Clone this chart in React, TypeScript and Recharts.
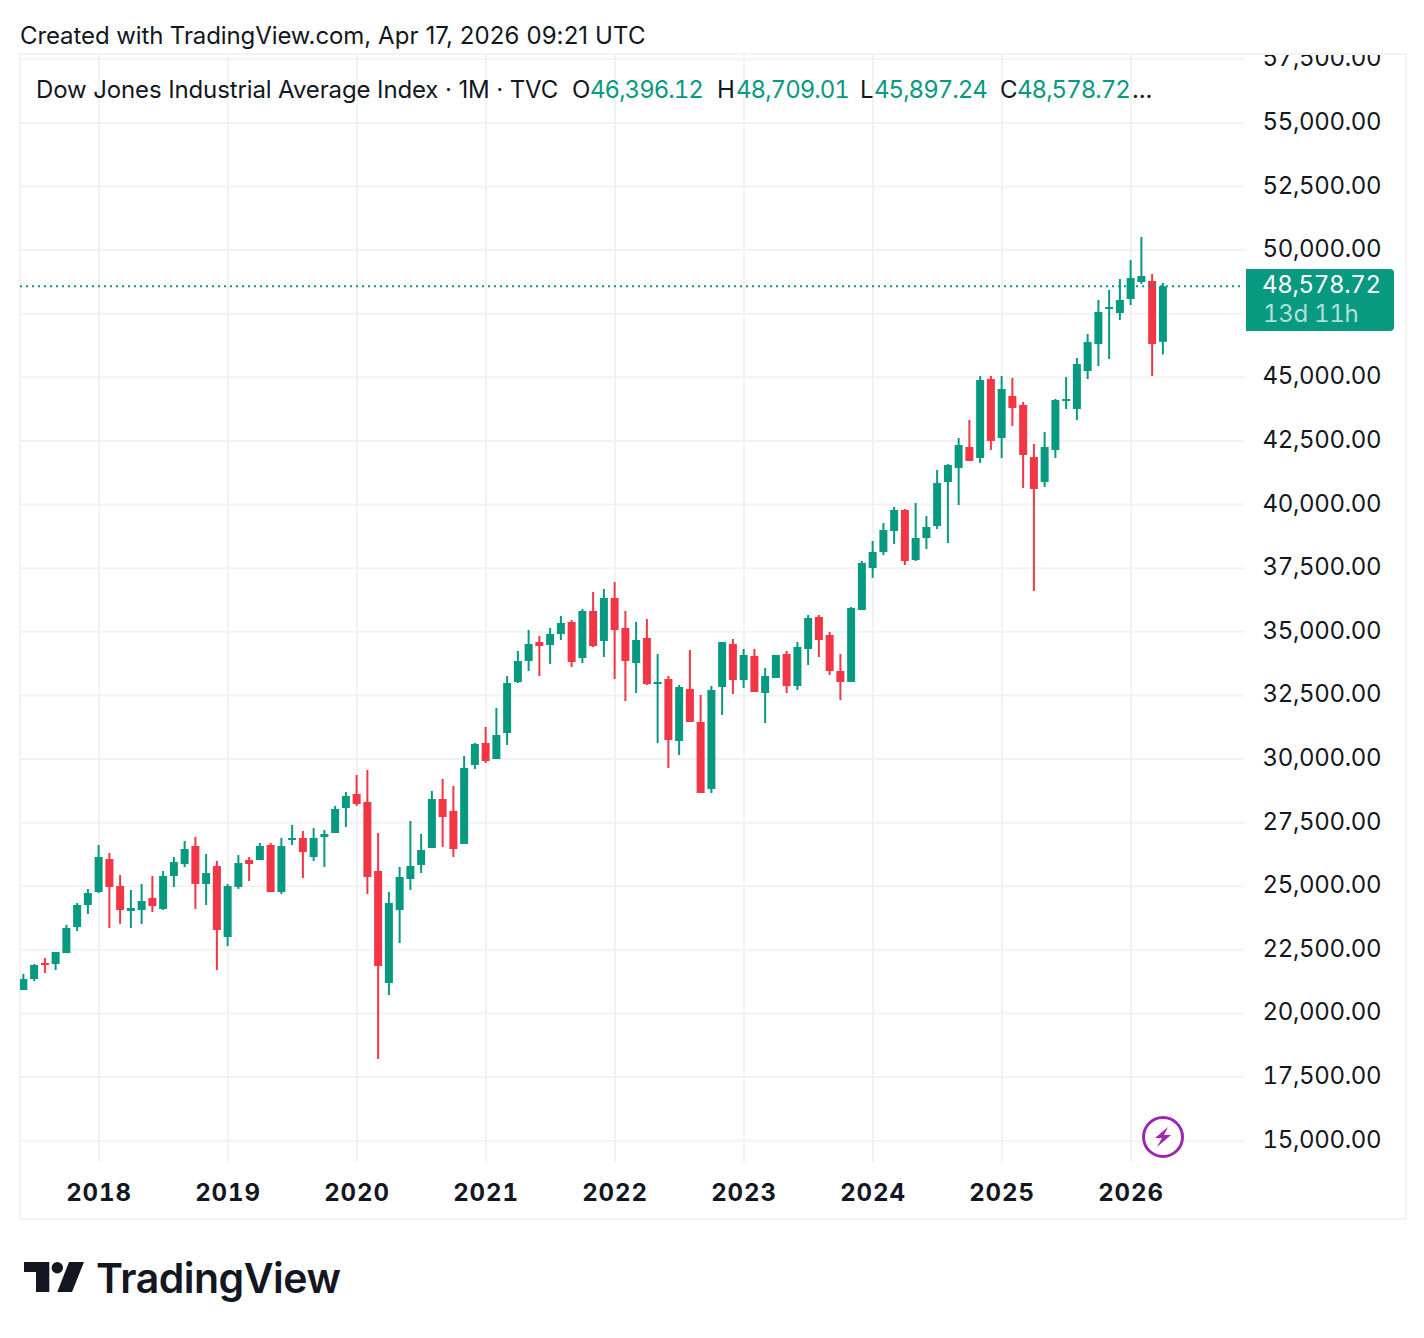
import { Bar, CartesianGrid, ComposedChart, ReferenceLine, XAxis, YAxis } from 'recharts';

const UP = '#089981';
const DOWN = '#F23645';
const INK = '#131722';
const GRID = '#F2F2F2';
const FONT = 'Inter, "Noto Sans", sans-serif';

// monthly candles, Jun 2017 to Apr 2026
const opens = [
  20921, 21354, 21983, 21944, 22376, 23398, 24262, 24773, 26070, 25009, 24027, 24066, 24538, 24105, 25402, 25874, 26581, 25088, 25795, 23005,
  24970, 26031, 26031, 26620, 24773, 26817, 26896, 26149, 26936, 27093, 28076, 28626, 28311, 25600, 21198, 24067, 25285, 25836, 26504, 28429,
  27958, 26661, 29766, 30629, 29999, 31022, 33026, 33852, 34598, 34480, 34913, 35384, 33970, 35817, 34638, 36328, 35149, 33773, 34756, 32948,
  33144, 30708, 32751, 31454, 28821, 32831, 34521, 33106, 34049, 32595, 33185, 34128, 32870, 34324, 35582, 34875, 33460, 33028, 35857, 37508,
  38136, 38962, 39787, 37822, 38687, 39158, 40887, 41438, 42263, 41831, 44935, 42617, 44267, 43914, 41870, 40887, 42145, 44071, 43756, 45249,
  46310, 47686, 47529, 48079, 48747, 48786, 46396.12,
];
const highs = [
  21551, 21944, 22180, 22415, 23476, 24341, 24891, 26620, 26306, 25442, 24852, 25088, 25402, 25599, 26149, 26778, 26935, 26267, 25992, 25088,
  26227, 26149, 26699, 26699, 26896, 27407, 27171, 27289, 27211, 28154, 28704, 29372, 29569, 27093, 24774, 25757, 27565, 27054, 28744, 29215,
  28940, 30119, 30630, 31258, 32005, 33262, 34245, 35070, 34834, 35149, 35620, 35463, 35895, 36563, 36681, 36956, 35817, 35384, 35502, 34127,
  33262, 32908, 34284, 32516, 32869, 34599, 34717, 34324, 34324, 33578, 34088, 34246, 34599, 35660, 35660, 34992, 34128, 35975, 37783, 38569,
  39276, 39905, 39826, 40062, 39551, 41359, 41595, 42617, 43324, 45053, 45053, 45053, 44975, 44031, 42381, 42852, 44149, 45014, 45760, 46703,
  48040, 48432, 48865, 49612, 50515, 49061, 48709.01,
];
const lows = [
  20921, 21276, 21590, 21708, 22376, 23241, 23909, 24734, 23359, 23516, 23359, 23516, 23987, 24066, 24970, 25756, 24105, 24263, 21708, 22651,
  24891, 25206, 26031, 24773, 24695, 26620, 25323, 25992, 25757, 27093, 27329, 28154, 24696, 18211, 20726, 22770, 24853, 25521, 26504, 26543,
  26150, 26661, 29608, 29843, 29999, 30550, 32987, 33459, 33262, 33734, 34677, 33616, 33773, 34402, 34009, 33144, 32280, 32594, 32908, 30629,
  29647, 30157, 31454, 28664, 28664, 31730, 32556, 32792, 32634, 31416, 33185, 32595, 32713, 33695, 34010, 33303, 32320, 33028, 35857, 37115,
  38019, 38451, 37626, 37783, 38254, 39040, 38490, 39983, 41713, 41634, 42145, 41831, 43088, 40652, 36604, 40691, 41831, 43756, 43323, 44935,
  45446, 45721, 47253, 47843, 48668, 45053, 45897.24,
];
const closes = [
  21354, 21905, 21905, 22415, 23359, 24262, 24734, 26149, 24970, 24066, 24145, 24420, 24223, 25402, 25952, 26463, 25088, 25520, 23280, 25009,
  25913, 25874, 26581, 24773, 26581, 26896, 26345, 26896, 27054, 28036, 28547, 28233, 25364, 21866, 24342, 25364, 25796, 26425, 28429, 27722,
  26464, 29648, 30591, 29922, 30944, 32987, 33852, 34520, 34441, 34913, 35345, 33812, 35817, 34441, 36328, 35070, 33852, 34677, 32948, 33026,
  30747, 32830, 31454, 28664, 32712, 34598, 33106, 34088, 32634, 33263, 34088, 32870, 34403, 35543, 34678, 33460, 33028, 35936, 37704, 38136,
  39001, 39787, 37783, 38687, 39119, 40848, 41555, 42341, 41713, 44896, 42499, 44542, 43796, 41948, 40612, 42263, 44110, 44149, 45524, 46389,
  47568, 47764, 48040, 48904, 48983, 46310, 48578.72,
];

const yearTicks = [7, 19, 31, 43, 55, 67, 79, 91, 103];
const yearLabels = ['2018', '2019', '2020', '2021', '2022', '2023', '2024', '2025', '2026'];
const priceTicks = [
  15000, 17500, 20000, 22500, 25000, 27500, 30000, 32500, 35000, 37500, 40000, 42500, 45000, 47500, 50000, 52500, 55000, 57500,
];

const data = opens.map((open, i) => ({
  index: i,
  open,
  high: highs[i],
  low: lows[i],
  close: closes[i],
  range: [lows[i], highs[i]],
}));

const last = data[data.length - 1];
const fmt = (v: number) => v.toLocaleString('en-US', { minimumFractionDigits: 2, maximumFractionDigits: 2 });

function Candle(props: any) {
  const { x, y, width, height, payload } = props;
  const { open, high, low, close } = payload;
  const color = close >= open ? UP : DOWN;
  const perUnit = height / (high - low);
  const top = y + (high - Math.max(open, close)) * perUnit;
  const bodyHeight = Math.max(Math.abs(close - open) * perUnit, 2);
  return (
    <g>
      <rect x={x + width / 2 - 1} y={y} width={2} height={height} fill={color} />
      <rect x={x} y={top} width={width} height={bodyHeight} fill={color} />
    </g>
  );
}

function Label({ x, y, color, spacing = -0.12, tabular = false, children }: any) {
  return (
    <span
      style={{
        position: 'absolute',
        left: x,
        top: y,
        color,
        fontSize: 24,
        lineHeight: '28px',
        letterSpacing: spacing,
        fontVariantNumeric: tabular ? 'tabular-nums' : 'normal',
        whiteSpace: 'nowrap',
      }}
    >
      {children}
    </span>
  );
}

export default function App() {
  return (
    <div
      style={{
        position: 'absolute',
        left: 0,
        top: 0,
        width: 1424,
        height: 1338,
        background: '#fff',
        fontFamily: FONT,
        fontVariantNumeric: 'tabular-nums',
        overflow: 'hidden',
      }}
    >
      <div style={{ position: 'absolute', left: 19, top: 53, width: 1384, height: 1163, border: `2px solid ${GRID}` }} />

      <ComposedChart
        width={1424}
        height={1338}
        data={data}
        margin={{ top: 54, right: 20, bottom: 120, left: 20 }}
      >
        <CartesianGrid stroke={GRID} strokeWidth={2} syncWithTicks />
        <XAxis
          dataKey="index"
          type="number"
          domain={[-0.349, 113.51]}
          allowDataOverflow
          ticks={yearTicks}
          tickFormatter={(v: number) => yearLabels[yearTicks.indexOf(v)]}
          height={56}
          axisLine={false}
          tickLine={false}
          tickSize={0}
          tickMargin={22}
          tick={{ fill: INK, fontSize: 24, fontWeight: 700, fontFamily: FONT, letterSpacing: 0.9 }}
        />
        <YAxis
          orientation="right"
          type="number"
          domain={[14163, 57707]}
          allowDataOverflow
          ticks={priceTicks}
          tickFormatter={(v: number) => fmt(v)}
          width={160}
          axisLine={false}
          tickLine={false}
          tickSize={0}
          tickMargin={18.5}
          tick={{ fill: INK, fontSize: 24, fontFamily: FONT, textAnchor: 'start', dy: -1.5, letterSpacing: -0.35 }}
        />
        <ReferenceLine y={last.close} stroke={UP} strokeWidth={2} strokeDasharray="2 4" strokeDashoffset={2} />
        <Bar dataKey="range" barSize={8} shape={Candle} isAnimationActive={false} />
      </ComposedChart>

      {/* the top price label is cut off by the pane edge */}
      <div style={{ position: 'absolute', left: 1246, top: 40, width: 158, height: 13, background: '#fff', borderBottom: `2px solid ${GRID}` }} />

      <Label x={20} y={22} color={INK} spacing={-0.1}>Created with TradingView.com,</Label>
      <Label x={378} y={22} color={INK} spacing={0.1}>Apr 17, 2026 09:21 UTC</Label>
      <Label x={36} y={76} color={INK}>Dow Jones Industrial Average Index · 1M · TVC</Label>
      <Label x={572} y={76} color={INK}>O</Label>
      <Label x={590} y={76} color={UP} spacing={-1} tabular>{fmt(last.open)}</Label>
      <Label x={717} y={76} color={INK}>H</Label>
      <Label x={736} y={76} color={UP} spacing={-1} tabular>{fmt(last.high)}</Label>
      <Label x={860} y={76} color={INK}>L</Label>
      <Label x={874} y={76} color={UP} spacing={-1} tabular>{fmt(last.low)}</Label>
      <Label x={1000} y={76} color={INK}>C</Label>
      <Label x={1017} y={76} color={UP} spacing={-1} tabular>{fmt(last.close)}</Label>
      <Label x={1132} y={76} color={INK}>...</Label>

      <div style={{ position: 'absolute', left: 1246, top: 269, width: 148, height: 62, background: UP, borderRadius: '0 4px 4px 0' }} />
      <Label x={1262} y={271} color="#fff" spacing={-0.35} tabular>{fmt(last.close)}</Label>
      <Label x={1263} y={300} color="rgba(255,255,255,0.7)" spacing={-0.3} tabular>13d 11h</Label>

      <svg style={{ position: 'absolute', left: 0, top: 0 }} width={1424} height={1338}>
        <circle cx={1163} cy={1137} r={19.5} fill="#fff" stroke="#9C27B0" strokeWidth={3} />
        <polygon points="1168,1127 1155,1138 1162,1138 1157,1147 1171,1135 1164,1135" fill="#9C27B0" />
        <path d="M24 1262H49.3V1292H36V1272H24Z" fill={INK} />
        <circle cx={57.3} cy={1267.7} r={5.7} fill={INK} />
        <path d="M69 1262H84L72 1292H57.3Z" fill={INK} />
      </svg>
      <span style={{ position: 'absolute', left: 96, top: 1252, fontSize: 41, lineHeight: '52px', fontWeight: 600, color: INK, letterSpacing: -0.5 }}>
        TradingView
      </span>
    </div>
  );
}
